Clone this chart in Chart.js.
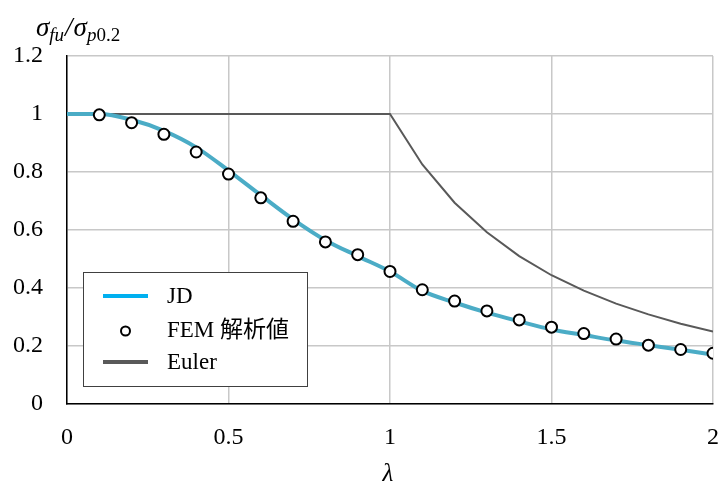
<!DOCTYPE html>
<html>
<head>
<meta charset="utf-8">
<script src="https://cdn.jsdelivr.net/npm/chart.js@4/dist/chart.umd.min.js"></script>
<style>
  html, body { margin: 0; padding: 0; background: #fff; }
  #wrap { width: 724px; height: 484px; position: relative; }
</style>
</head>
<body>
<div id="wrap"><canvas id="c" width="724" height="484"></canvas></div>
<script>
// Slenderness ratio λ and normalised ultimate stress σfu/σp0.2
const jdLambda  = [0, 0.1, 0.2, 0.3, 0.4, 0.5, 0.6, 0.7, 0.8, 0.9, 1.0, 1.1, 1.2, 1.3, 1.4, 1.5, 1.6, 1.7, 1.8, 1.9, 2.0];
const jdValues  = [1, 1, 0.98, 0.942, 0.885, 0.805, 0.72, 0.637, 0.565, 0.51, 0.457, 0.39, 0.35, 0.315, 0.285, 0.257, 0.238, 0.219, 0.203, 0.187, 0.17];

const femLambda = [0.1, 0.2, 0.3, 0.4, 0.5, 0.6, 0.7, 0.8, 0.9, 1.0, 1.1, 1.2, 1.3, 1.4, 1.5, 1.6, 1.7, 1.8, 1.9, 2.0];
const femValues = [0.997, 0.97, 0.93, 0.869, 0.793, 0.711, 0.63, 0.559, 0.515, 0.457, 0.394, 0.355, 0.321, 0.29, 0.265, 0.243, 0.224, 0.203, 0.188, 0.175];

const eulerLambda = [0, 1.0, 1.1, 1.2, 1.3, 1.4, 1.5, 1.6, 1.7, 1.8, 1.9, 2.0];
const eulerValues = [1, 1, 0.826, 0.694, 0.592, 0.51, 0.444, 0.391, 0.346, 0.309, 0.277, 0.25];

const xTicks = [0, 0.5, 1, 1.5, 2];
const yTicks = [0, 0.2, 0.4, 0.6, 0.8, 1, 1.2];

const seriesNames = ['JD', 'FEM 解析値', 'Euler'];

const SERIF = "'Liberation Serif', 'Noto Sans CJK JP', serif";
const pts = (xs, ys) => xs.map((x, i) => ({ x: x, y: ys[i] }));

// Legend box and axis titles, drawn over the plot
const decorations = {
  id: 'decorations',
  afterDraw(chart) {
    const ctx = chart.ctx;
    ctx.save();

    // legend
    const bx = 83.5, by = 272.5, bw = 224, bh = 114;
    ctx.fillStyle = '#fff';
    ctx.fillRect(bx, by, bw, bh);
    ctx.strokeStyle = '#404040';
    ctx.lineWidth = 1;
    ctx.strokeRect(bx, by, bw, bh);

    ctx.font = "23px " + SERIF;
    ctx.fillStyle = '#000';
    ctx.textBaseline = 'middle';
    ctx.textAlign = 'left';

    ctx.strokeStyle = '#00b0f0';
    ctx.lineWidth = 4;
    ctx.beginPath(); ctx.moveTo(103, 296); ctx.lineTo(148, 296); ctx.stroke();
    ctx.fillText(seriesNames[0], 167, 297);

    ctx.strokeStyle = '#000';
    ctx.lineWidth = 2;
    ctx.fillStyle = '#fff';
    ctx.beginPath(); ctx.arc(125.5, 331, 4.5, 0, Math.PI * 2); ctx.fill(); ctx.stroke();
    ctx.fillStyle = '#000';
    ctx.fillText(seriesNames[1], 167, 331);

    ctx.strokeStyle = '#595959';
    ctx.lineWidth = 4;
    ctx.beginPath(); ctx.moveTo(103, 362); ctx.lineTo(148, 362); ctx.stroke();
    ctx.fillText(seriesNames[2], 167, 363);

    // x axis title
    ctx.textAlign = 'center';
    ctx.textBaseline = 'alphabetic';
    ctx.font = "italic 25px " + SERIF;
    ctx.fillText('λ', 388, 481);

    // y axis title: σ_fu / σ_p0.2
    ctx.textAlign = 'left';
    const base = 36;
    let x = 36;
    const part = (txt, font, dy, gapAfter) => {
      ctx.font = font;
      ctx.fillText(txt, x, base + dy);
      x += ctx.measureText(txt).width + gapAfter;
    };
    const big = "italic 27px " + SERIF;
    const sub = "italic 19px " + SERIF;
    part('σ', big, 0, 0);
    part('fu', sub, 5, 1);
    part('/', big, 0, 1);
    part('σ', big, 0, 0);
    part('p', sub, 5, 0);
    part('0.2', "19px " + SERIF, 5, 0);

    ctx.restore();
  }
};

new Chart(document.getElementById('c'), {
  type: 'scatter',
  data: {
    datasets: [
      {
        label: seriesNames[1],
        data: pts(femLambda, femValues),
        showLine: false,
        pointRadius: 5.5,
        pointBorderWidth: 2,
        pointBackgroundColor: '#fff',
        pointBorderColor: '#000',
        order: 0
      },
      {
        label: seriesNames[0],
        data: pts(jdLambda, jdValues),
        showLine: true,
        borderColor: '#4bacc6',
        borderWidth: 4,
        pointRadius: 0,
        cubicInterpolationMode: 'monotone',
        order: 1
      },
      {
        label: seriesNames[2],
        data: pts(eulerLambda, eulerValues),
        showLine: true,
        borderColor: '#595959',
        borderWidth: 2,
        pointRadius: 0,
        tension: 0,
        order: 2
      }
    ]
  },
  options: {
    responsive: false,
    animation: false,
    events: [],
    layout: { padding: { left: 0, right: 11, top: 56, bottom: 0 } },
    plugins: { legend: { display: false }, tooltip: { enabled: false }, title: { display: false } },
    scales: {
      x: {
        type: 'linear',
        min: 0, max: 2,
        afterBuildTicks(s) { s.ticks = xTicks.map(v => ({ value: v })); },
        afterFit(s) { s.height = 80; s.paddingLeft = 0; s.paddingRight = 0; },
        grid: { color: '#c8c8c8', lineWidth: 1.5, drawTicks: false },
        border: { color: '#000', width: 1.5 },
        ticks: {
          padding: 19,
          color: '#000',
          font: { family: SERIF, size: 24 },
          maxRotation: 0,
          callback: v => String(v)
        }
      },
      y: {
        min: 0, max: 1.2,
        afterBuildTicks(s) { s.ticks = yTicks.map(v => ({ value: v })); },
        afterFit(s) { s.width = 67; s.paddingTop = 0; s.paddingBottom = 0; },
        grid: { color: '#c8c8c8', lineWidth: 1.5, drawTicks: false },
        border: { color: '#000', width: 1.5 },
        ticks: {
          padding: 24,
          color: '#000',
          font: { family: SERIF, size: 24 },
          callback: v => String(Math.round(v * 10) / 10)
        }
      }
    }
  },
  plugins: [decorations]
});
</script>
</body>
</html>
